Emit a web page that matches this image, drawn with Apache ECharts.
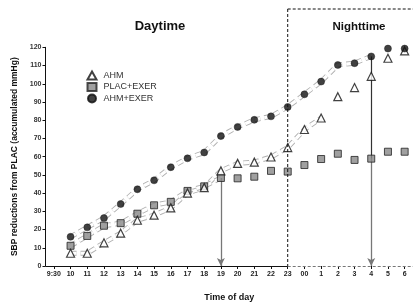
<!DOCTYPE html>
<html><head><meta charset="utf-8">
<script src="https://cdn.jsdelivr.net/npm/echarts@6/dist/echarts.min.js"></script>
<style>html,body{margin:0;padding:0;background:#fff}#c{width:413px;height:307px}</style>
</head><body><div id="c"></div>
<script>
// Tick labels along the time axis
const timeLabels = ['9:30','10','11','12','13','14','15','16','17','18','19','20','21','22','23','00','1','2','3','4','5','6'];
// Values for hours 10 .. 6 (no value at 9:30)
const ahm      = [7, 7, 12.7, 18, 25.1, 27.9, 31.9, 40, 43, 52.2, 56.3, 57, 59.8, 65, 74.9, 81.2, 92.9, 97.9, 104.1, 114, 118];
const placExer = [11.1, 16.5, 22.1, 23.5, 28.7, 33.3, 35.2, 41.2, 43.7, 48.3, 48.1, 49, 52.2, 51.8, 55.4, 58.7, 61.6, 58.2, 58.9, 62.7, 62.7];
const ahmExer  = [16, 21.2, 26.3, 34, 42.1, 47, 54.2, 59.1, 62.3, 71.3, 76.3, 80.2, 82.1, 87.3, 94.2, 101.2, 110.3, 111.3, 115, 119.3, 119.3];
// Band (double dashed line) extents: last hour label of each band
const bandEnd = { ahm: '1', placExer: '19', ahmExer: '4' };
// Arrow hours
const arrowHours = ['19', '4'];

const FONT = 'Liberation Sans, Arial, Helvetica, sans-serif';
const hours = timeLabels.slice(1);
const toPairs = arr => arr.map((v, i) => [hours[i], v]);
const bandPairs = (arr, end) => toPairs(arr).slice(0, hours.indexOf(end) + 1);
const valAt = (arr, h) => arr[hours.indexOf(h)];

function bandSeries(name, arr, end) {
  return [
    { name: name + '_bo', type: 'line', data: bandPairs(arr, end), symbol: 'none', silent: true, z: 1,
      lineStyle: { color: '#b0b0b0', width: 5, type: [6, 4] } },
    { name: name + '_bi', type: 'line', data: bandPairs(arr, end), symbol: 'none', silent: true, z: 1,
      lineStyle: { color: '#ffffff', width: 3.2, type: [6, 4] } }
  ];
}

const chart = echarts.init(document.getElementById('c'), null, { renderer: 'canvas' });
const option = {
  animation: false,
  backgroundColor: '#fff',
  textStyle: { fontFamily: FONT },
  grid: { left: 45.5, right: -4.5, top: 47.3, bottom: 33.7 },
  title: [
    { text: 'Daytime', left: 155, top: 15, textAlign: 'center',
      textStyle: { fontSize: 13, fontWeight: 'bold', color: '#111', fontFamily: FONT } },
    { text: 'Nighttime', left: 354, top: 16, textAlign: 'center',
      textStyle: { fontSize: 11.5, fontWeight: 'bold', color: '#111', fontFamily: FONT } }
  ],
  legend: {
    data: ['AHM', 'PLAC+EXER', 'AHM+EXER'],
    orient: 'vertical', left: 86.5, top: 70.5, padding: 0, itemWidth: 9, itemHeight: 8, itemGap: 1.5,
    textStyle: { fontSize: 9, color: '#333', fontFamily: FONT, padding: [0, 0, 0, 2] },
    selectedMode: false
  },
  xAxis: {
    type: 'category', data: timeLabels, boundaryGap: true,
    name: 'Time of day', nameLocation: 'middle', nameGap: 27,
    nameTextStyle: { fontSize: 9, fontWeight: 'bold', color: '#111' },
    axisLine: { show: false },
    axisTick: { show: true, alignWithLabel: true, length: 3, lineStyle: { color: '#111' } },
    axisLabel: { fontSize: 7, color: '#222', margin: 5, interval: 0, fontWeight: 'bold' },
    splitLine: { show: false }
  },
  yAxis: {
    type: 'value', min: 0, max: 120, interval: 10,
    name: 'SBP reductions from PLAC (accumulated mmHg)', nameLocation: 'middle', nameGap: 23,
    nameTextStyle: { fontSize: 8.5, fontWeight: 'bold', color: '#111' },
    axisLine: { show: true, lineStyle: { color: '#111', width: 1 } },
    axisTick: { show: true, length: 3, lineStyle: { color: '#111' } },
    axisLabel: { fontSize: 7, color: '#333', margin: 4, fontWeight: 'bold' },
    splitLine: { show: false }
  },
  series: [
    ...bandSeries('b1', ahmExer, bandEnd.ahmExer),
    ...bandSeries('b2', ahm, bandEnd.ahm),
    ...bandSeries('b3', placExer, bandEnd.placExer),
    { name: 'PLAC+EXER', type: 'scatter', data: toPairs(placExer), symbol: 'rect', symbolSize: 7, z: 5,
      itemStyle: { color: '#888888', borderColor: '#222', borderWidth: 1 },
      markLine: {
        silent: true, symbol: ['none', 'arrow'], symbolSize: [6, 8], label: { show: false },
        lineStyle: { color: '#777', width: 1.3, type: 'solid' },
        data: arrowHours.map(h => [{ coord: [h, valAt(placExer, h)] }, { coord: [h, 0] }])
      } },
    { name: 'AHM', type: 'scatter', data: toPairs(ahm), symbol: 'triangle', symbolSize: 8, z: 6,
      itemStyle: { color: '#ffffff', borderColor: '#111', borderWidth: 1.2 },
      markLine: {
        silent: true, symbol: ['none', 'none'], label: { show: false },
        lineStyle: { color: '#333', width: 1.2, type: 'solid' },
        data: [[{ coord: ['4', valAt(ahmExer, '4')] }, { coord: ['4', valAt(placExer, '4')] }]]
      } },
    { name: 'AHM+EXER', type: 'scatter', data: toPairs(ahmExer), symbol: 'circle', symbolSize: 7, z: 7,
      itemStyle: { color: '#111', borderColor: '#111', borderWidth: 0.5 } }
  ]
};
chart.setOption(option);

const p0 = chart.convertToPixel({ xAxisIndex: 0, yAxisIndex: 0 }, ['9:30', 0]);
const p23 = chart.convertToPixel({ xAxisIndex: 0, yAxisIndex: 0 }, ['23', 0]);
const gridLeft = 45.5;
const boxTop = 9;
chart.setOption({
  graphic: [
    { type: 'line', shape: { x1: gridLeft, y1: p0[1] + 0.5, x2: p23[0], y2: p0[1] + 0.5 },
      style: { stroke: '#111', lineWidth: 1 }, z: 10 },
    { type: 'line', shape: { x1: p23[0], y1: p0[1] + 0.5, x2: 413, y2: p0[1] + 0.5 },
      style: { stroke: '#777', lineWidth: 1, lineDash: [3, 2] }, z: 10 },
    { type: 'line', shape: { x1: p23[0], y1: boxTop, x2: p23[0], y2: p0[1] },
      style: { stroke: '#111', lineWidth: 1, lineDash: [3, 2] }, z: 10 },
    { type: 'line', shape: { x1: p23[0], y1: boxTop, x2: 413, y2: boxTop },
      style: { stroke: '#111', lineWidth: 1, lineDash: [3, 2] }, z: 10 }
  ]
});
</script>
</body></html>
